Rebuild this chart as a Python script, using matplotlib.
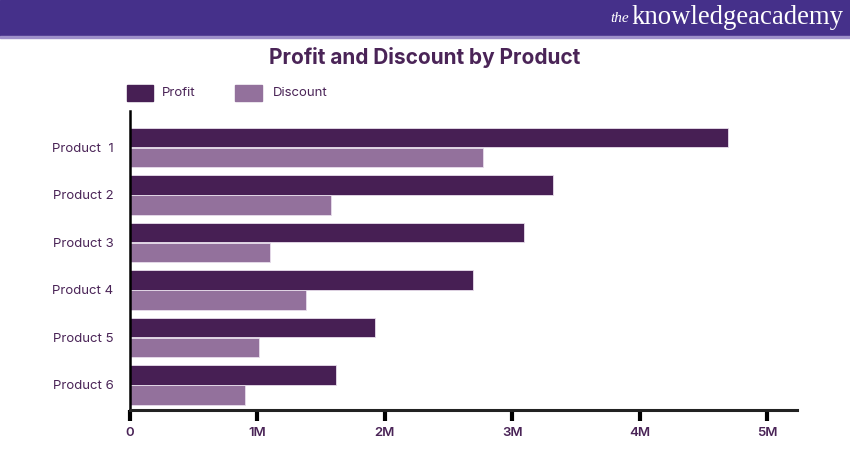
import matplotlib.pyplot as plt
import matplotlib.patches as mpatches
import numpy as np

products = ["Product  1", "Product 2", "Product 3", "Product 4", "Product 5", "Product 6"]
profit = [4.69, 3.32, 3.09, 2.69, 1.92, 1.62]      # millions
discount = [2.77, 1.58, 1.10, 1.38, 1.01, 0.90]    # millions
tick_vals = [0, 1, 2, 3, 4, 5]
tick_labels = ["0", "1M", "2M", "3M", "4M", "5M"]

c_profit = "#471F54"
c_discount = "#93719C"
c_text = "#4A2457"

plt.rcParams['font.family'] = ['Inter', 'DejaVu Sans']

fig = plt.figure(figsize=(8.5, 4.5), dpi=100)
W, H = 850, 450

# Header band
fig.patches.append(mpatches.Rectangle((0, 1 - 36 / H), 1, 36 / H, transform=fig.transFigure,
                                      color="#45308A", zorder=0))
fig.patches.append(mpatches.Rectangle((0, 1 - 37.5 / H), 1, 1.5 / H, transform=fig.transFigure,
                                      color="#9D8FC9", zorder=0))
fig.text(629 / W, 1 - 18 / H, "the", family="Liberation Serif", style="italic", fontsize=11,
         color="white", va="center", ha="right")
fig.text(843 / W, 1 - 17 / H, "knowledgeacademy", family="Liberation Serif", fontsize=19.3,
         color="white", va="center", ha="right")

# Title
fig.text(425 / W, 1 - 57 / H, "Profit and Discount by Product", ha="center", va="center",
         fontsize=15, fontweight="bold", color=c_text)

ax = fig.add_axes([130 / W, 1 - 410 / H, (797 - 130) / W, (410 - 111) / H])

y = np.arange(len(products))
h = 0.41
ax.barh(y - 0.205, profit, height=h, color=c_profit, edgecolor="#E8DDEB", linewidth=0.6)
ax.barh(y + 0.215, discount, height=h, color=c_discount, edgecolor="#E8DDEB", linewidth=0.6)

ax.set_xlim(0, 667 / 127.4)
ax.set_ylim(5.53, -0.76)
ax.set_yticks(y)
ax.set_yticklabels(products, fontsize=9.5, color=c_text)
ax.tick_params(axis="y", length=0, pad=12)
ax.set_xticks(tick_vals)
ax.set_xticklabels(tick_labels, fontsize=9.5, color=c_text, fontweight="semibold")
ax.tick_params(axis="x", length=8, width=3, color="black", pad=4, direction="out")

for s in ["top", "right"]:
    ax.spines[s].set_visible(False)
ax.spines["left"].set_linewidth(1.8)
ax.spines["bottom"].set_linewidth(2.2)
ax.spines["left"].set_color("black")
ax.spines["bottom"].set_color("#222222")

# Legend
fig.patches.append(mpatches.Rectangle((127 / W, 1 - 101 / H), 26 / W, 16 / H,
                                      transform=fig.transFigure, color=c_profit))
fig.text(162 / W, 1 - 93 / H, "Profit", fontsize=9.5, color=c_text, va="center")
fig.patches.append(mpatches.Rectangle((235 / W, 1 - 101 / H), 27 / W, 16 / H,
                                      transform=fig.transFigure, color=c_discount))
fig.text(273 / W, 1 - 93 / H, "Discount", fontsize=9.5, color=c_text, va="center")

fig.savefig("out.png", dpi=100)
